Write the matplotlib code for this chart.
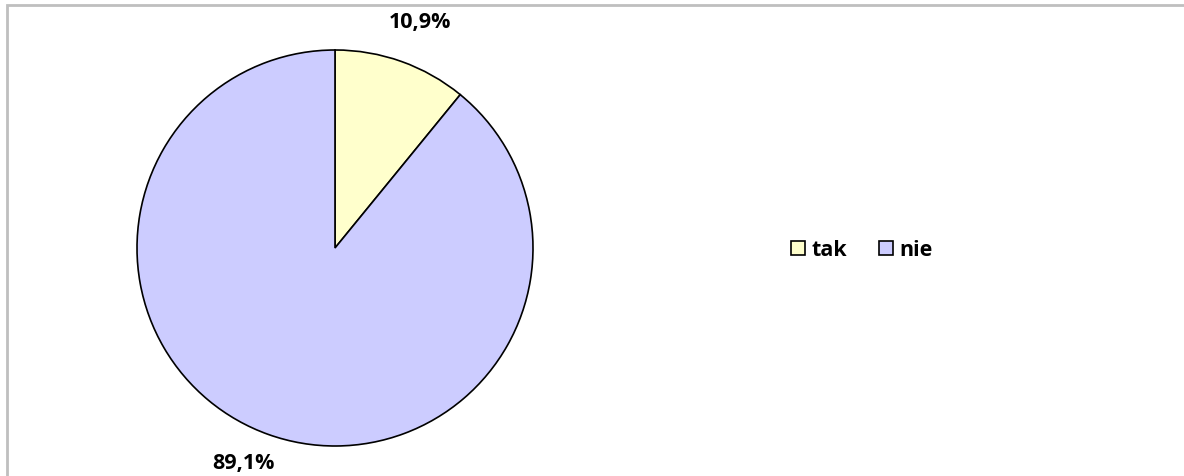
import matplotlib.pyplot as plt
from matplotlib.patches import Rectangle

# dane z wykresu
kategorie = ['tak', 'nie']
wartosci = [10.9, 89.1]
etykiety = ['10,9%', '89,1%']
kolory = ['#FFFFCC', '#CCCCFF']

W, H = 1184, 476
fig = plt.figure(figsize=(W / 100, H / 100), dpi=100)
plt.rcParams['font.family'] = ['Open Sans', 'DejaVu Sans']

# ramka (widoczna tylko gora i lewa strona)
fig.patches.append(Rectangle((7 / W, -20 / H), 1, (H + 20 - 5) / H, transform=fig.transFigure,
                             fill=False, edgecolor='#BFBFBF', linewidth=2))

cx, cy, r = 335, 248, 198
ax = fig.add_axes([(cx - r) / W, (H - cy - r) / H, 2 * r / W, 2 * r / H])
wedges, teksty = ax.pie(wartosci, colors=kolory, startangle=90, counterclock=False,
                        labels=etykiety, labeldistance=1.2,
                        wedgeprops=dict(edgecolor='black', linewidth=1.2),
                        textprops=dict(fontsize=15.5, fontweight='bold', color='black'))
# przesuniecie etykiet jak w oryginale
pozycje = [(0.43, 1.14), (-0.46, -1.09)]
for t, p in zip(teksty, pozycje):
    t.set_position(p)
    t.set_ha('center')
    t.set_va('center')
ax.set_xlim(-1, 1)
ax.set_ylim(-1, 1)
ax.set_aspect('equal')
ax.axis('off')

fig.legend(wedges, kategorie, loc='center', bbox_to_anchor=(862 / W, 1 - 250 / H), ncol=2,
           frameon=False, handlelength=0.65, handleheight=0.65, handletextpad=0.3, columnspacing=1.5,
           prop=dict(size=15.5, weight='bold'))

fig.savefig('out.png', dpi=100)
